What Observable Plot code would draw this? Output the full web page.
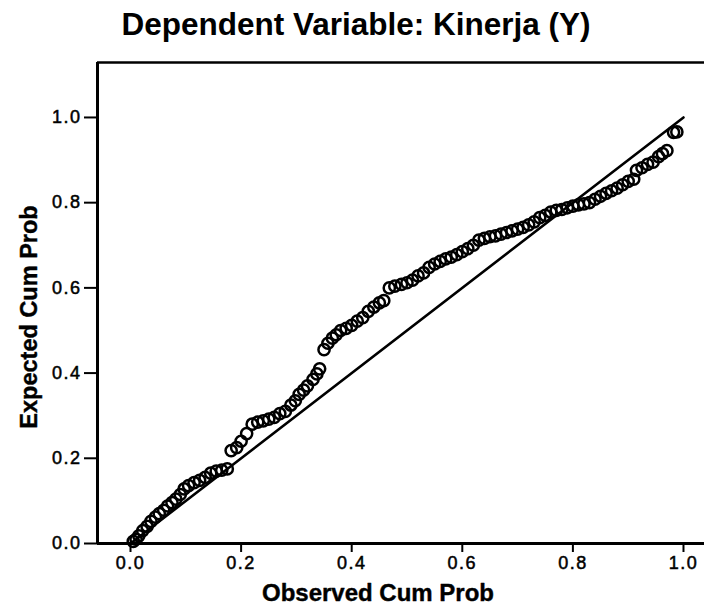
<!DOCTYPE html>
<html><head><meta charset="utf-8">
<script src="https://cdn.jsdelivr.net/npm/d3@7"></script>
<script src="https://cdn.jsdelivr.net/npm/@observablehq/plot@0.6"></script>
<style>
body{margin:0;background:#fff;width:704px;height:609px;overflow:hidden;font-family:"Liberation Sans",Arial,sans-serif}
#title{height:48px;line-height:48px;font-size:31.5px;font-weight:bold;text-align:center;padding-left:8px;box-sizing:border-box;width:704px;color:#000;white-space:nowrap}
#chart svg [aria-label$="tick label"] text{letter-spacing:1.5px;stroke:#000;stroke-width:0.5px}
#chart svg [aria-label$="tick"] path{stroke-width:2px}
</style></head><body>
<div id="title">Dependent Variable: Kinerja (Y)</div>
<div id="chart"></div>
<script>
const observed = [0.005,0.010,0.015,0.022,0.030,0.037,0.045,0.052,0.060,0.067,
0.075,0.082,0.090,0.097,0.105,0.115,0.125,0.135,0.145,0.155,
0.165,0.175,0.182,0.192,0.200,0.210,0.220,0.230,0.240,0.250,
0.260,0.270,0.280,0.290,0.298,0.305,0.313,0.320,0.330,0.337,
0.342,0.350,0.357,0.365,0.372,0.380,0.390,0.400,0.410,0.420,
0.430,0.440,0.450,0.458,0.468,0.478,0.490,0.500,0.510,0.520,
0.530,0.540,0.550,0.560,0.570,0.580,0.590,0.600,0.610,0.620,
0.630,0.640,0.650,0.660,0.670,0.680,0.690,0.700,0.710,0.720,
0.730,0.740,0.750,0.760,0.770,0.780,0.790,0.800,0.810,0.820,
0.830,0.840,0.850,0.860,0.870,0.880,0.890,0.900,0.910,0.915,
0.925,0.935,0.945,0.955,0.962,0.970,0.982,0.988];
const expected = [0.005,0.010,0.018,0.030,0.040,0.052,0.062,0.070,0.078,0.088,
0.096,0.104,0.115,0.128,0.136,0.143,0.148,0.155,0.165,0.170,
0.172,0.175,0.218,0.225,0.240,0.258,0.280,0.285,0.288,0.292,
0.296,0.305,0.310,0.325,0.335,0.350,0.360,0.370,0.385,0.398,
0.410,0.455,0.470,0.482,0.490,0.500,0.505,0.512,0.522,0.530,
0.545,0.555,0.565,0.570,0.600,0.604,0.608,0.612,0.618,0.628,
0.635,0.648,0.656,0.662,0.668,0.672,0.678,0.685,0.692,0.700,
0.712,0.716,0.720,0.722,0.726,0.730,0.734,0.738,0.742,0.748,
0.755,0.765,0.770,0.778,0.782,0.784,0.788,0.792,0.795,0.797,
0.800,0.808,0.815,0.822,0.828,0.834,0.842,0.850,0.855,0.876,
0.882,0.890,0.895,0.908,0.915,0.922,0.965,0.966];
const diagX = [0, 1];
const diagY = [0, 1];
const xTicks = [0, 0.2, 0.4, 0.6, 0.8, 1.0];
const yTicks = [0, 0.2, 0.4, 0.6, 0.8, 1.0];
const xTitle = "Observed Cum Prob";
const yTitle = "Expected Cum Prob";

const points = observed.map((x, i) => ({x, y: expected[i]}));
const diag = diagX.map((x, i) => ({x, y: diagY[i]}));
const xDomain = [-0.0597, 1.038];
const yDomain = [0, 1.129];
const fmt = d3.format(".1f");

const chart = Plot.plot({
  width: 704,
  height: 561,
  marginLeft: 97,
  marginRight: 0,
  marginTop: 14,
  marginBottom: 66,
  style: {fontFamily: "'Liberation Sans', Arial, sans-serif", fontSize: "18px", color: "#000", background: "#fff", overflow: "visible"},
  x: {domain: xDomain, ticks: xTicks, tickFormat: fmt, tickSize: 9, tickPadding: 4, label: null},
  y: {domain: yDomain, ticks: yTicks, tickFormat: fmt, tickSize: 13, tickPadding: 3, label: null},
  marks: [
    Plot.ruleY([yDomain[1]], {stroke: "#000", strokeWidth: 2.5}),
    Plot.ruleX([xDomain[0]], {stroke: "#000", strokeWidth: 3}),
    Plot.ruleY([0], {stroke: "#000", strokeWidth: 3}),
    Plot.line(diag, {x: "x", y: "y", stroke: "#000", strokeWidth: 2.6}),
    Plot.dot(points, {x: "x", y: "y", r: 5.6, stroke: "#000", strokeWidth: 2.5, fill: "none"}),
    Plot.text([xTitle], {frameAnchor: "bottom", dx: -23, dy: 57, lineAnchor: "bottom", fontSize: 24, fontWeight: "bold", fill: "#000", stroke: "#000", strokeWidth: 0.4}),
    Plot.text([yTitle], {frameAnchor: "left", rotate: -90, dx: -61, dy: 14, lineAnchor: "bottom", textAnchor: "middle", fontSize: 23.5, fontWeight: "bold", fill: "#000", stroke: "#000", strokeWidth: 0.4})
  ]
});
document.getElementById("chart").appendChild(chart);
</script>
</body></html>
